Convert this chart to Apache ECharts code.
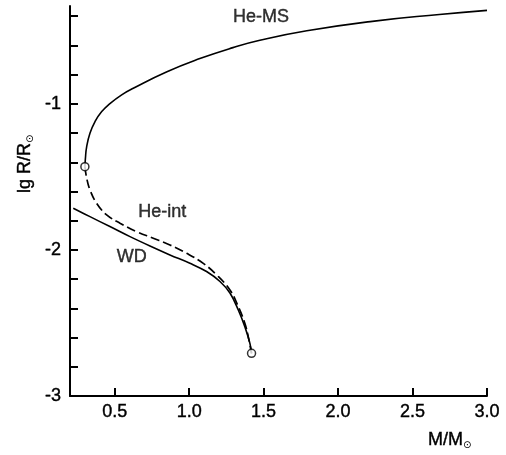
<!DOCTYPE html>
<html>
<head>
<meta charset="utf-8">
<script src="https://cdn.jsdelivr.net/npm/echarts@6/dist/echarts.min.js"></script>
<style>
  html, body { margin: 0; padding: 0; background: #fff; }
  #chart { width: 506px; height: 455px; }
</style>
</head>
<body>
<div id="chart"></div>
<script>
// Helium main sequence, traced from the minimum-mass point upwards
const heMsMass = [0.300, 0.303, 0.312, 0.334, 0.368, 0.413, 0.468, 0.547, 0.625, 0.851, 1.072, 1.294, 1.475, 1.790, 2.230, 2.680, 3.000];
const heMsLgR  = [-1.430, -1.380, -1.293, -1.201, -1.121, -1.053, -0.998, -0.938, -0.893, -0.780, -0.690, -0.615, -0.565, -0.500, -0.435, -0.388, -0.360];

// Intermediate helium-star sequence (dashed)
const heIntMass = [0.300, 0.312, 0.334, 0.379, 0.446, 0.536, 0.648, 0.759, 0.871, 0.983, 1.095, 1.185, 1.274, 1.330, 1.374, 1.397, 1.419];
const heIntLgR  = [-1.430, -1.509, -1.589, -1.681, -1.760, -1.817, -1.875, -1.920, -1.966, -2.023, -2.092, -2.171, -2.274, -2.388, -2.502, -2.594, -2.708];

// White-dwarf mass–radius relation
const wdMass = [0.222, 0.334, 0.468, 0.603, 0.737, 0.871, 1.005, 1.117, 1.207, 1.274, 1.330, 1.374, 1.408, 1.419];
const wdLgR  = [-1.715, -1.772, -1.840, -1.909, -1.973, -2.034, -2.091, -2.148, -2.216, -2.295, -2.411, -2.525, -2.640, -2.708];

// Open circles where the sequences join
const nodeMass = [0.300, 1.419];
const nodeLgR  = [-1.430, -2.708];

// Curve labels and their anchor points
const curveNames = ['He-MS', 'He-int', 'WD'];
const nameMass   = [1.482, 0.820, 0.614];
const nameLgR    = [-0.404, -1.742, -2.046];

// Axis ticks
const xTickValues  = [0.5, 1.0, 1.5, 2.0, 2.5, 3.0];
const yTickValues  = [-3.0, -2.8, -2.6, -2.4, -2.2, -2.0, -1.8, -1.6, -1.4, -1.2, -1.0, -0.8, -0.6, -0.4];
const yLabelValues = [-3, -2, -1];

const pairs = (xs, ys) => xs.map((x, i) => [x, ys[i]]);

const FONT = 'Liberation Sans, Arial, sans-serif';
const INK = '#000';
// a hairline outline keeps small glyphs as dark as the drawn lines
const inkText = { color: INK, fontFamily: FONT, fontSize: 18, textBorderColor: INK, textBorderWidth: 0.4 };

const chart = echarts.init(document.getElementById('chart'), null, { renderer: 'canvas' });

chart.setOption({
  animation: false,
  backgroundColor: '#fff',
  grid: { left: 70, right: 19, top: 6, bottom: 59, containLabel: false },
  xAxis: {
    type: 'value',
    min: 0.2,
    max: 3.0,
    splitLine: { show: false },
    axisLine: { show: true, lineStyle: { color: INK, width: 2 } },
    axisTick: { show: true, inside: true, length: 8, customValues: xTickValues, lineStyle: { color: INK, width: 2 } },
    axisLabel: Object.assign({
      customValues: xTickValues,
      formatter: v => v.toFixed(1),
      margin: 7
    }, inkText)
  },
  yAxis: {
    type: 'value',
    min: -3,
    max: -0.33,
    splitLine: { show: false },
    axisLine: { show: true, lineStyle: { color: INK, width: 2 } },
    axisTick: { show: true, inside: true, length: 8, customValues: yTickValues, lineStyle: { color: INK, width: 2 } },
    axisLabel: Object.assign({
      customValues: yLabelValues,
      formatter: v => String(Math.round(v)),
      margin: 9
    }, inkText)
  },
  series: [
    {
      name: 'He-MS', type: 'line', data: pairs(heMsMass, heMsLgR),
      showSymbol: false, smooth: 0.5,
      lineStyle: { color: INK, width: 1.6 }
    },
    {
      name: 'He-int', type: 'line', data: pairs(heIntMass, heIntLgR),
      showSymbol: false, smooth: 0.4,
      lineStyle: { color: INK, width: 1.7, type: [9, 4] }
    },
    {
      name: 'WD', type: 'line', data: pairs(wdMass, wdLgR),
      showSymbol: false, smooth: 0.4,
      lineStyle: { color: INK, width: 1.6 }
    },
    {
      name: 'nodes', type: 'scatter', data: pairs(nodeMass, nodeLgR),
      symbol: 'circle', symbolSize: 8, z: 5,
      itemStyle: { color: '#fff', borderColor: INK, borderWidth: 1.5 }
    },
    {
      name: 'labels', type: 'scatter', symbolSize: 0, silent: true,
      data: curveNames.map((n, i) => ({ name: n, value: [nameMass[i], nameLgR[i]] })),
      label: Object.assign({ show: true, position: 'inside', formatter: '{b}' }, inkText)
    }
  ],
  graphic: [
    {
      type: 'text',
      x: 15, y: 193,
      rotation: Math.PI / 2,
      style: {
        text: '{a|lg R/R}{s|⊙}',
        fill: INK,
        rich: {
          a: { fontSize: 18, fontFamily: FONT, fill: INK, stroke: INK, lineWidth: 0.4 },
          s: { fontSize: 10, fontFamily: 'DejaVu Sans', fill: INK, padding: [10, 0, 0, 0] }
        }
      }
    },
    {
      type: 'text',
      x: 428, y: 430,
      style: {
        text: '{a|M/M}{s|⊙}',
        fill: INK,
        rich: {
          a: { fontSize: 18, fontFamily: FONT, fill: INK, stroke: INK, lineWidth: 0.4 },
          s: { fontSize: 10, fontFamily: 'DejaVu Sans', fill: INK, padding: [10, 0, 0, 0] }
        }
      }
    }
  ]
});
</script>
</body>
</html>
